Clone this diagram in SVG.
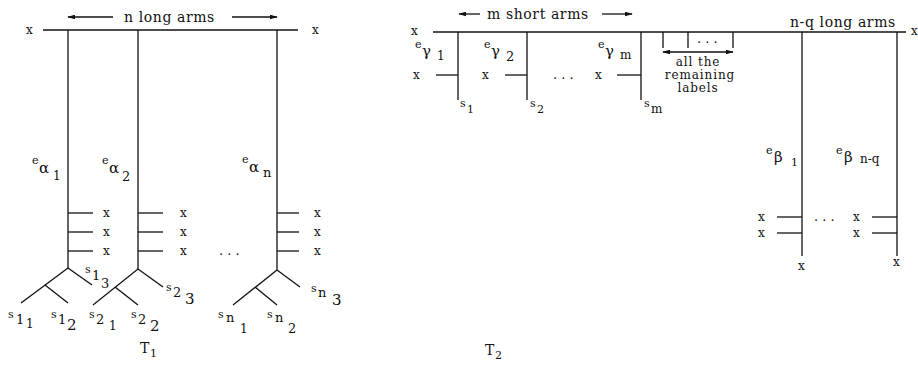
<svg xmlns="http://www.w3.org/2000/svg" width="918" height="387" viewBox="0 0 918 387">
<defs>
<marker id="ah" viewBox="0 0 10 6" refX="9" refY="3" markerWidth="8" markerHeight="5" orient="auto-start-reverse" markerUnits="userSpaceOnUse">
<path d="M0,0 L10,3 L0,6 z" fill="#111"/>
</marker>
<style>
line{stroke:#111;stroke-width:1.3;fill:none}
text{font-family:"DejaVu Serif","Liberation Serif",serif;fill:#111;font-size:13px}
.e{font-size:11px}
.g{font-size:15px}
.s{font-size:12px}
.x{font-size:12px}
.h{font-size:14px;letter-spacing:0.6px}
.r{font-size:12px;letter-spacing:0.9px}
.a{marker-end:url(#ah)}
</style>
</defs>
<rect width="918" height="387" fill="#fff"/>

<g id="T1">
<g id="t1-header">
<line class="a" x1="113" y1="17" x2="68" y2="17"/>
<text x="124" y="22" class="h">n  long  arms</text>
<line class="a" x1="232" y1="17" x2="277" y2="17"/>
</g>
<g id="t1-spine">
<text x="26" y="34" class="x">x</text>
<line x1="43" y1="30" x2="298" y2="30"/>
<text x="312" y="34" class="x">x</text>
</g>
<g id="t1-arm1">
<line x1="68" y1="30" x2="68" y2="268"/>
<text x="32" y="164" class="e">e</text><text x="39" y="173" class="g">α</text><text x="53" y="180" class="s">1</text>
<line x1="68" y1="213" x2="93" y2="213"/><line x1="68" y1="232" x2="93" y2="232"/><line x1="68" y1="251" x2="93" y2="251"/>
<text x="103" y="217" class="x">x</text><text x="103" y="236" class="x">x</text><text x="103" y="255" class="x">x</text>
<line x1="68" y1="268" x2="92" y2="285"/><line x1="68" y1="268" x2="21" y2="303"/><line x1="45" y1="285" x2="68" y2="303"/>
<text x="8" y="318" class="e">s</text><text x="16" y="324">1</text><text x="26" y="328" class="s">1</text>
<text x="51" y="318" class="e">s</text><text x="58" y="324">1</text><text x="67" y="330" class="g">2</text>
<text x="85" y="273" class="e">s</text><text x="92" y="280">1</text><text x="101" y="288">3</text>
</g>
<g id="t1-arm2">
<line x1="138" y1="30" x2="138" y2="269"/>
<text x="102" y="164" class="e">e</text><text x="109" y="173" class="g">α</text><text x="122" y="181">2</text>
<line x1="138" y1="213" x2="163" y2="213"/><line x1="138" y1="232" x2="163" y2="232"/><line x1="138" y1="251" x2="163" y2="251"/>
<text x="180" y="217" class="x">x</text><text x="180" y="236" class="x">x</text><text x="180" y="255" class="x">x</text>
<line x1="138" y1="269" x2="163" y2="287"/><line x1="138" y1="269" x2="93" y2="305"/><line x1="115" y1="287" x2="138" y2="305"/>
<text x="89" y="318" class="e">s</text><text x="96" y="324">2</text><text x="109" y="330" class="s">1</text>
<text x="131" y="318" class="e">s</text><text x="138" y="324">2</text><text x="150" y="331" class="g">2</text>
<text x="166" y="291" class="e">s</text><text x="173" y="297">2</text><text x="185" y="304" class="g">3</text>
</g>
<text x="219" y="255">. . .</text>
<g id="t1-armn">
<line x1="277" y1="30" x2="277" y2="270"/>
<text x="242" y="163" class="e">e</text><text x="249" y="172" class="g">α</text><text x="263" y="177">n</text>
<line x1="277" y1="213" x2="299" y2="213"/><line x1="277" y1="232" x2="299" y2="232"/><line x1="277" y1="251" x2="299" y2="251"/>
<text x="314" y="217" class="x">x</text><text x="314" y="236" class="x">x</text><text x="314" y="255" class="x">x</text>
<line x1="277" y1="270" x2="300" y2="287"/><line x1="277" y1="270" x2="233" y2="305"/><line x1="255" y1="287" x2="277" y2="305"/>
<text x="218" y="318" class="e">s</text><text x="226" y="322">n</text><text x="240" y="333" class="s">1</text>
<text x="267" y="318" class="e">s</text><text x="275" y="322">n</text><text x="288" y="333">2</text>
<text x="311" y="292" class="e">s</text><text x="318" y="297">n</text><text x="332" y="305" class="g">3</text>
</g>
<text x="140" y="353" class="h">T</text><text x="150" y="357" class="e">1</text>
</g>

<g id="T2">
<g id="t2-header">
<line class="a" x1="480" y1="14" x2="459" y2="14"/>
<text x="487" y="19" class="h">m  short  arms</text>
<line class="a" x1="602" y1="14" x2="632" y2="14"/>
<text x="790" y="27" class="h">n-q long arms</text>
</g>
<g id="t2-spine">
<text x="411" y="35" class="x">x</text>
<line x1="433" y1="32" x2="906" y2="32"/>
<text x="911" y="35" class="x">x</text>
</g>
<g id="t2-short1">
<line x1="458" y1="32" x2="458" y2="100"/>
<text x="415" y="48" class="e">e</text><text x="422" y="56" class="g">γ</text><text x="437" y="60" class="s">1</text>
<text x="413" y="79" class="x">x</text><line x1="436" y1="75" x2="458" y2="75"/>
<text x="460" y="107" class="e">s</text><text x="467" y="113" class="e">1</text>
</g>
<g id="t2-short2">
<line x1="527" y1="32" x2="527" y2="100"/>
<text x="484" y="48" class="e">e</text><text x="491" y="56" class="g">γ</text><text x="506" y="61">2</text>
<text x="482" y="79" class="x">x</text><line x1="505" y1="75" x2="527" y2="75"/>
<text x="530" y="107" class="e">s</text><text x="537" y="113" class="e">2</text>
</g>
<text x="553" y="79">. . .</text>
<g id="t2-shortm">
<line x1="641" y1="32" x2="641" y2="100"/>
<text x="598" y="48" class="e">e</text><text x="605" y="56" class="g">γ</text><text x="620" y="59" class="s">m</text>
<text x="595" y="79" class="x">x</text><line x1="617" y1="75" x2="641" y2="75"/>
<text x="644" y="107" class="e">s</text><text x="651" y="113" class="s">m</text>
</g>
<g id="t2-remaining">
<line x1="663" y1="32" x2="663" y2="48"/><line x1="688" y1="32" x2="688" y2="48"/><line x1="733" y1="32" x2="733" y2="48"/>
<text x="697" y="43">. . .</text>
<line class="a" x1="698" y1="52" x2="733" y2="52"/><line class="a" x1="698" y1="52" x2="663" y2="52"/>
<text x="698" y="66" text-anchor="middle" class="r">all the</text>
<text x="700" y="79" text-anchor="middle" class="r">remaining</text>
<text x="698" y="92" text-anchor="middle" class="r">labels</text>
</g>
<g id="t2-long1">
<line x1="802" y1="32" x2="802" y2="256"/>
<text x="766" y="154" class="e">e</text><text x="774" y="162" class="g">β</text><text x="791" y="166" class="e">1</text>
<text x="758" y="221" class="x">x</text><line x1="777" y1="217" x2="802" y2="217"/>
<text x="758" y="237" class="x">x</text><line x1="777" y1="233" x2="802" y2="233"/>
<text x="798" y="270" class="x">x</text>
</g>
<text x="814" y="221">. . .</text>
<g id="t2-longnq">
<line x1="897" y1="32" x2="897" y2="256"/>
<text x="836" y="154" class="e">e</text><text x="844" y="162" class="g">β</text><text x="860" y="163" class="s">n-q</text>
<text x="853" y="221" class="x">x</text><line x1="872" y1="217" x2="897" y2="217"/>
<text x="853" y="237" class="x">x</text><line x1="872" y1="233" x2="897" y2="233"/>
<text x="893" y="266" class="x">x</text>
</g>
<text x="485" y="355" class="h">T</text><text x="495" y="359" class="e">2</text>
</g>
</svg>
